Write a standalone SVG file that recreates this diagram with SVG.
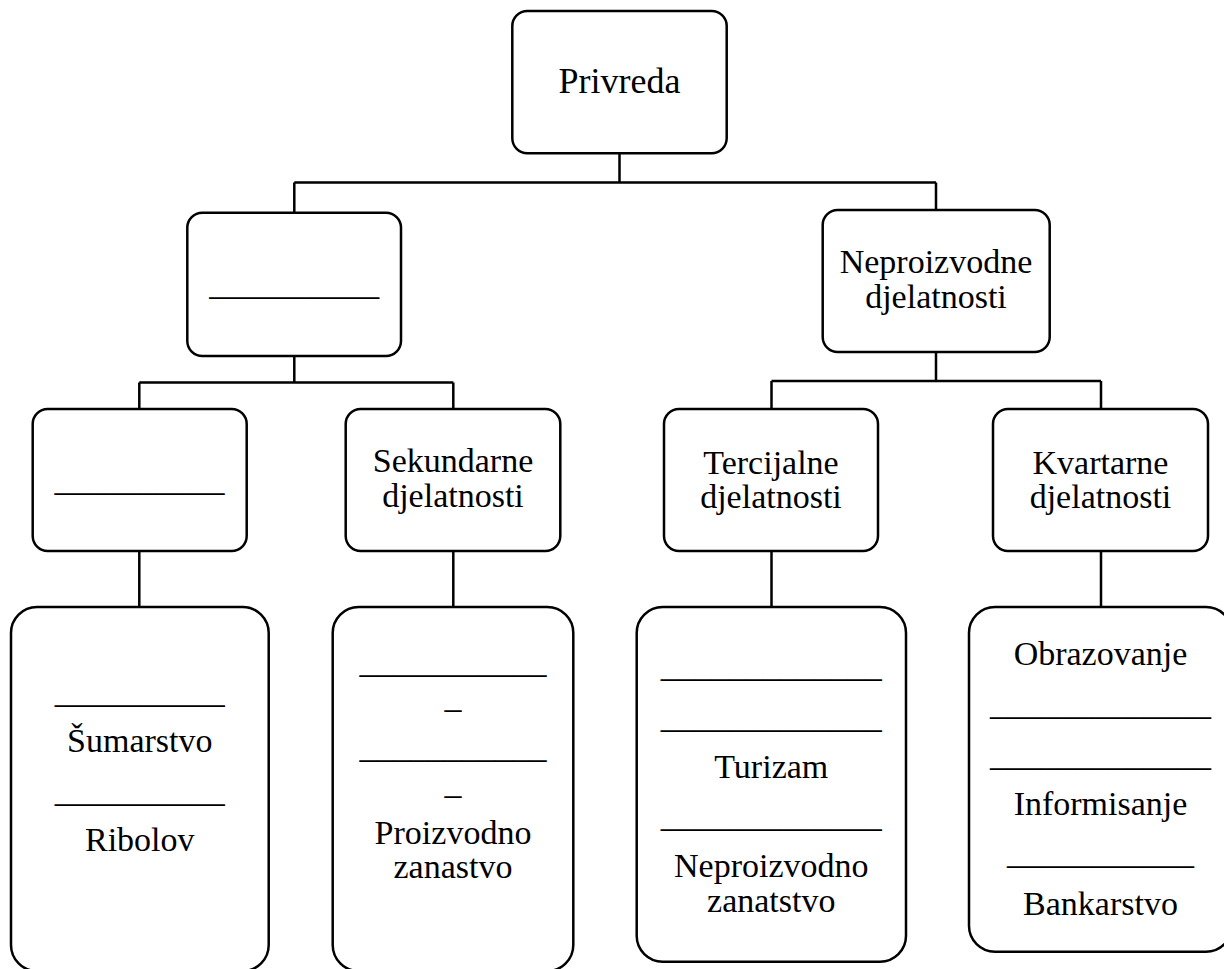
<svg xmlns="http://www.w3.org/2000/svg" width="1224" height="969" viewBox="0 0 1224 969">
<style>
.box{fill:#fff;stroke:#000;stroke-width:2.5}
.con{fill:none;stroke:#000;stroke-width:2.5}
text{font-family:"Liberation Serif","Times New Roman",serif;font-size:34px;fill:#000;text-anchor:middle}
</style>
<rect width="1224" height="969" fill="#fff"/>
<g id="connectors">
<path class="con" d="M619.5,153 V182.5 M294.3,182.5 H936 M294.3,182.5 V213 M936,182.5 V210"/>
<path class="con" d="M294.3,356 V382.5 M139.3,382.5 H453.3 M139.3,382.5 V409 M453.3,382.5 V409"/>
<path class="con" d="M936,352 V381 M771.5,381 H1101 M771.5,381 V409 M1101,381 V409"/>
<path class="con" d="M139.3,551 V607 M453.3,551 V607 M771.5,551 V607 M1101,551 V607"/>
</g>
<g id="privreda">
<rect class="box" x="512.3" y="11" width="214.4" height="142.3" rx="15"/>
<text x="619.5" y="93" style="font-size:36px">Privreda</text>
</g>
<g id="proizvodne">
<rect class="box" x="187.3" y="212.7" width="213.7" height="143.3" rx="15"/>
<text x="294.2" y="295">__________</text>
</g>
<g id="neproizvodne">
<rect class="box" x="822.7" y="210" width="227" height="142" rx="15"/>
<text x="936" y="273">Neproizvodne</text>
<text x="936" y="308">djelatnosti</text>
</g>
<g id="primarne">
<rect class="box" x="32.7" y="409" width="214" height="142" rx="15"/>
<text x="139.5" y="490.6">__________</text>
</g>
<g id="sekundarne">
<rect class="box" x="345.7" y="409" width="214.6" height="142" rx="15"/>
<text x="453" y="471.7">Sekundarne</text>
<text x="453" y="506.7">djelatnosti</text>
</g>
<g id="tercijalne">
<rect class="box" x="664" y="409" width="214" height="142" rx="15"/>
<text x="771" y="474">Tercijalne</text>
<text x="771" y="508">djelatnosti</text>
</g>
<g id="kvartarne">
<rect class="box" x="993" y="409" width="215" height="142" rx="15"/>
<text x="1100.5" y="474">Kvartarne</text>
<text x="1100.5" y="508">djelatnosti</text>
</g>
<g id="primarne-list">
<rect class="box" x="11" y="607" width="257.7" height="364" rx="26"/>
<text x="139.8" y="703.3">__________</text>
<text x="139.8" y="752">Šumarstvo</text>
<text x="139.8" y="801.6">__________</text>
<text x="139.8" y="851">Ribolov</text>
</g>
<g id="sekundarne-list">
<rect class="box" x="332.7" y="607" width="240.6" height="364" rx="26"/>
<text x="453" y="672.6">___________</text>
<text x="453" y="719">–</text>
<text x="453" y="757.6">___________</text>
<text x="453" y="805">–</text>
<text x="453" y="844">Proizvodno</text>
<text x="453" y="878">zanastvo</text>
</g>
<g id="tercijalne-list">
<rect class="box" x="636.7" y="607" width="269.3" height="354.7" rx="26"/>
<text x="771.3" y="677.3">_____________</text>
<text x="771.3" y="727.6">_____________</text>
<text x="771.3" y="777.7">Turizam</text>
<text x="771.3" y="826.6">_____________</text>
<text x="771.3" y="876.7">Neproizvodno</text>
<text x="771.3" y="911.7">zanatstvo</text>
</g>
<g id="kvartarne-list">
<rect class="box" x="969" y="607" width="263" height="344.7" rx="26"/>
<text x="1100.5" y="665">Obrazovanje</text>
<text x="1100.5" y="715">_____________</text>
<text x="1100.5" y="766">_____________</text>
<text x="1100.5" y="815">Informisanje</text>
<text x="1100.5" y="864.3">___________</text>
<text x="1100.5" y="915">Bankarstvo</text>
</g>
</svg>
